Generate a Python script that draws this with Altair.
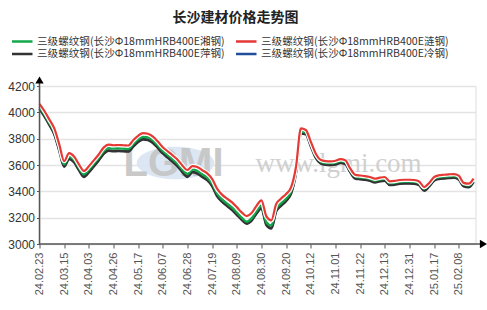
import altair as alt
import pandas as pd

tick_labels = ["24.02.23", "24.03.15", "24.04.03", "24.04.26", "24.05.17", "24.06.07",
               "24.06.28", "24.07.19", "24.08.09", "24.08.30", "24.09.20", "24.10.12",
               "24.11.01", "24.11.22", "24.12.13", "24.12.31", "25.01.17", "25.02.08"]

series_names = ["三级螺纹钢(长沙Φ18mmHRB400E湘钢)", "三级螺纹钢(长沙Φ18mmHRB400E涟钢)",
                "三级螺纹钢(长沙Φ18mmHRB400E萍钢)", "三级螺纹钢(长沙Φ18mmHRB400E冷钢)"]
series_colors = ["#12a84a", "#e53935", "#333333", "#1f4e9c"]

xiang = [4040, 3985, 3920, 3850, 3730, 3605, 3665, 3640, 3580, 3530,
         3565, 3610, 3655, 3705, 3728, 3725, 3727, 3725, 3722, 3760,
         3795, 3815, 3810, 3788, 3750, 3708, 3676, 3645, 3610, 3565,
         3532, 3565, 3555, 3530, 3505, 3460, 3385, 3340, 3308, 3278,
         3240, 3200, 3170, 3195, 3250, 3292, 3165, 3140, 3270, 3310,
         3345, 3400, 3560, 3855, 3848, 3760, 3670, 3625, 3615, 3614,
         3618, 3630, 3622, 3560, 3512, 3506, 3502, 3495, 3482, 3490,
         3495, 3462, 3465, 3472, 3474, 3474, 3472, 3460, 3420, 3452,
         3495, 3508, 3512, 3515, 3517, 3505, 3452, 3445, 3485]

lian = [4065, 4010, 3945, 3878, 3758, 3630, 3690, 3665, 3605, 3555,
        3590, 3635, 3680, 3732, 3755, 3750, 3752, 3750, 3748, 3788,
        3822, 3842, 3837, 3815, 3778, 3735, 3704, 3673, 3640, 3595,
        3562, 3592, 3585, 3560, 3537, 3495, 3420, 3375, 3345, 3318,
        3280, 3240, 3212, 3235, 3290, 3332, 3210, 3180, 3305, 3345,
        3380, 3430, 3585, 3878, 3866, 3778, 3688, 3640, 3630, 3628,
        3632, 3644, 3636, 3574, 3526, 3520, 3516, 3509, 3496, 3504,
        3509, 3476, 3479, 3486, 3488, 3488, 3486, 3474, 3432, 3464,
        3508, 3522, 3526, 3529, 3531, 3519, 3464, 3458, 3497]

ping = [4025, 3970, 3905, 3834, 3712, 3588, 3646, 3622, 3562, 3510,
        3545, 3590, 3635, 3685, 3708, 3705, 3706, 3704, 3702, 3740,
        3775, 3795, 3790, 3768, 3730, 3688, 3656, 3625, 3590, 3545,
        3510, 3545, 3535, 3510, 3485, 3440, 3365, 3322, 3290, 3260,
        3222, 3184, 3155, 3178, 3232, 3272, 3145, 3118, 3250, 3292,
        3328, 3383, 3540, 3840, 3834, 3745, 3656, 3612, 3602, 3600,
        3604, 3616, 3608, 3546, 3498, 3492, 3488, 3481, 3468, 3476,
        3481, 3448, 3451, 3458, 3460, 3460, 3458, 3446, 3405, 3438,
        3481, 3494, 3498, 3501, 3503, 3491, 3438, 3431, 3471]

leng = [4028, 3973, 3908, 3837, 3715, 3591, 3649, 3625, 3565, 3513,
        3548, 3593, 3638, 3688, 3711, 3708, 3709, 3707, 3705, 3743,
        3778, 3798, 3793, 3771, 3733, 3691, 3659, 3628, 3593, 3548,
        3513, 3548, 3538, 3513, 3488, 3443, 3368, 3325, 3293, 3263,
        3225, 3187, 3158, 3181, 3235, 3275, 3148, 3121, 3253, 3295,
        3331, 3386, 3543, 3843, 3837, 3748, 3659, 3615, 3605, 3603,
        3607, 3619, 3611, 3549, 3501, 3495, 3491, 3484, 3471, 3479,
        3484, 3451, 3454, 3461, 3463, 3463, 3461, 3449, 3408, 3441,
        3484, 3497, 3501, 3504, 3506, 3494, 3441, 3434, 3474]

y_ticks = [3000, 3200, 3400, 3600, 3800, 4000, 4200]

rows = []
for name, vals in zip(series_names, [xiang, lian, ping, leng]):
    for i, v in enumerate(vals):
        rows.append({"i": i, "price": v, "s": name})
df = pd.DataFrame(rows)

W, H = 436, 158
label_arr = "[" + ",".join("'" + t + "'" for t in tick_labels) + "]"

x_enc = alt.X("i:Q",
              scale=alt.Scale(domain=[0, 88.4], nice=False, zero=False),
              axis=alt.Axis(values=list(range(0, 90, 5)),
                            labelExpr=label_arr + "[round(datum.value/5)]",
                            labelAngle=270, labelAlign="right", labelBaseline="middle",
                            labelFont="Liberation Sans", labelFontSize=11,
                            labelColor="#555555", labelPadding=4,
                            grid=False, domain=False, ticks=True, tickSize=4,
                            tickColor="#555555", title=None))
y_enc = alt.Y("price:Q",
              scale=alt.Scale(domain=[3000, 4200], nice=False, zero=False),
              axis=alt.Axis(values=y_ticks, format="d", labelFont="Liberation Sans",
                            labelFontSize=12, labelColor="#333333", labelPadding=2,
                            grid=True, gridColor="#e3e3e3", gridWidth=1.5, domain=False,
                            ticks=True, tickSize=3, tickColor="#555555", title=None))

color_enc = alt.Color("s:N",
                      scale=alt.Scale(domain=series_names, range=series_colors),
                      legend=None)

base = alt.Chart(df).encode(x=x_enc, y=y_enc)

def series_layer(name, width):
    return base.transform_filter(alt.datum.s == name).mark_line(
        interpolate="monotone", strokeWidth=width).encode(color=color_enc)

halo_red = base.transform_filter(alt.datum.s == series_names[1]).mark_line(
    interpolate="monotone", strokeWidth=4.5, color="white")

dummy = alt.Chart(pd.DataFrame({"a": [0]}))

# legend (two columns, two rows) built from the series names / colours
legend_slots = [(-27.5, -44.5), (196.5, -44.5), (-27.5, -32), (196.5, -32)]
legend_layers = []
for name, col, (lx, ly) in zip(series_names, series_colors, legend_slots):
    legend_layers.append(dummy.mark_rule(color=col, strokeWidth=2.5).encode(
        x=alt.value(lx), x2=alt.value(lx + 20.5), y=alt.value(ly)))
    legend_layers.append(dummy.mark_text(text=name, align="left", baseline="middle",
                                         font="Noto Sans CJK SC", fontSize=10.6,
                                         color="#333333").encode(
        x=alt.value(lx + 25), y=alt.value(ly)))

wm_ellipse = dummy.mark_point(
    shape="M -1 0 A 1 0.42 0 1 0 1 0 A 1 0.42 0 1 0 -1 0 Z",
    filled=True, color="#d9e4f3", opacity=0.9, size=6000
).encode(x=alt.value(136), y=alt.value(77))
wm_logo = dummy.mark_text(text="LGMI", font="Liberation Sans", fontSize=40,
                          fontWeight="bold", color="#c4c4c4", opacity=0.9
                          ).encode(x=alt.value(134), y=alt.value(78))
wm_url = dummy.mark_text(text="www.lgmi.com", font="Liberation Serif", fontSize=27,
                         color="#cccccc", opacity=0.9
                         ).encode(x=alt.value(299), y=alt.value(78))

x_axis_line = dummy.mark_rule(color="#555555", strokeWidth=1.5).encode(
    x=alt.value(0), x2=alt.value(442), y=alt.value(H))
y_axis_line = dummy.mark_rule(color="#555555", strokeWidth=1.5).encode(
    x=alt.value(0), y=alt.value(-6), y2=alt.value(H))
x_arrow = dummy.mark_point(shape="triangle-right", filled=True, color="#000000",
                           size=70, opacity=1).encode(x=alt.value(444), y=alt.value(H))
y_arrow = dummy.mark_point(shape="triangle-up", filled=True, color="#000000",
                           size=70, opacity=1).encode(x=alt.value(0), y=alt.value(-6))

chart = alt.layer(
    wm_ellipse, wm_logo, wm_url,
    series_layer(series_names[3], 2.2),
    series_layer(series_names[2], 2.6),
    series_layer(series_names[0], 2.4),
    halo_red,
    series_layer(series_names[1], 2.2),
    x_axis_line, y_axis_line, x_arrow, y_arrow,
    *legend_layers,
).properties(
    width=W, height=H,
    title=alt.TitleParams("长沙建材价格走势图", anchor="middle", fontSize=14,
                          fontWeight="bold", font="Noto Sans CJK SC", color="#222222",
                          offset=12, dx=-22),
    autosize=alt.AutoSizeParams(type="none"),
    padding={"left": 39.5, "top": 86, "right": 11.5, "bottom": 66},
).configure_view(stroke=None).configure(background="white")

chart.save("out.html", embed_options={"renderer": "svg", "actions": False})
